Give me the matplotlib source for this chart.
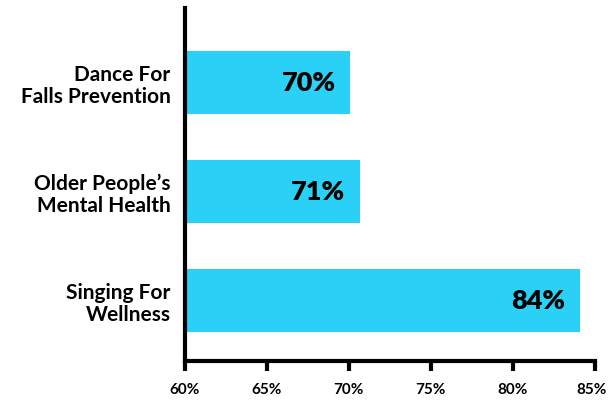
import matplotlib.pyplot as plt
from matplotlib.ticker import FuncFormatter
from matplotlib.transforms import ScaledTranslation

plt.rcParams['font.family'] = ['Lato', 'DejaVu Sans']

programmes = ["Dance For\nFalls Prevention", "Older People\u2019s\nMental Health", "Singing For\nWellness"]
scores = [70.1, 70.7, 84.1]
x_ticks = [60, 65, 70, 75, 80, 85]

bar_color = "#2AD0F5"

fig = plt.figure(figsize=(6.08, 4.02), dpi=100)
ax = fig.add_axes([184.5 / 608, 1 - 362 / 402, (595 - 184.5) / 608, (362 - 9) / 402])

ypos = list(range(len(programmes)))
ax.barh(ypos, [s - 60 for s in scores], left=60, height=0.58, color=bar_color, zorder=1)

# value labels inside the end of each bar
for y, s in zip(ypos, scores):
    ax.text(s - 0.9, y, f"{s:.0f}%", ha="right", va="center",
            fontsize=19.5, fontweight="heavy", color="black")

ax.set_xlim(60, 85)
ax.set_ylim(2.56, -0.684)
ax.set_xticks(x_ticks)
ax.xaxis.set_major_formatter(FuncFormatter(lambda v, p: f"{v:.0f}%"))
ax.set_yticks(ypos)
ax.set_yticklabels(programmes, fontsize=15, fontweight="bold", linespacing=1.1)

for side in ["top", "right"]:
    ax.spines[side].set_visible(False)
for side in ["left", "bottom"]:
    ax.spines[side].set_linewidth(3)
    ax.spines[side].set_color("black")

ax.tick_params(axis="x", length=7, width=3, pad=8, labelsize=11)
ax.tick_params(axis="y", length=0, pad=10)
xlabels = ax.get_xticklabels()
for lbl in xlabels:
    lbl.set_fontweight("bold")
# nudge the last tick label so it stays inside the figure
last = xlabels[-1]
last.set_transform(last.get_transform() + ScaledTranslation(-3 / 100, 0, fig.dpi_scale_trans))

fig.savefig("out.png", dpi=100)
